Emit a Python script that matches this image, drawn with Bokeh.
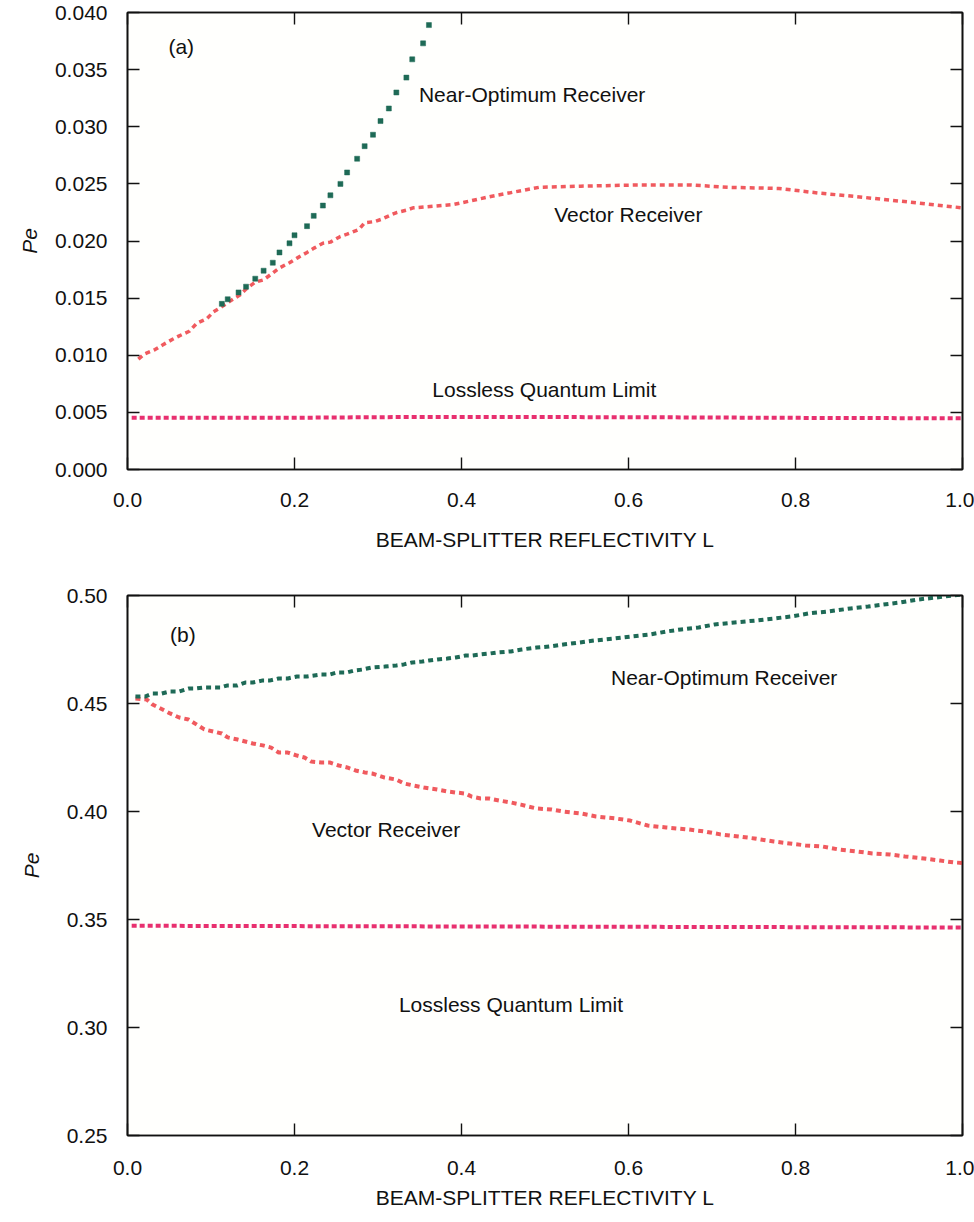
from bokeh.plotting import figure
from bokeh.models import (Range1d, LinearAxis, FixedTicker, NumeralTickFormatter, Label,
                          CustomJSTickFormatter)
from bokeh.layouts import column
from bokeh.embed import file_html
from bokeh.resources import INLINE

# ---------------- data ----------------
x_ticks = [0.0, 0.2, 0.4, 0.6, 0.8, 1.0]
y_ticks_a = [0.000, 0.005, 0.010, 0.015, 0.020, 0.025, 0.030, 0.035, 0.040]
y_ticks_b = [0.25, 0.30, 0.35, 0.40, 0.45, 0.50]

# Panel (a)
near_opt_a_L = [0.113, 0.120, 0.133, 0.142, 0.153, 0.163, 0.174, 0.182, 0.194, 0.200,
                0.215, 0.223, 0.234, 0.243, 0.255, 0.263, 0.275, 0.284, 0.294, 0.303,
                0.313, 0.322, 0.334, 0.341, 0.354, 0.361]
near_opt_a_Pe = [0.0145, 0.0149, 0.0155, 0.0160, 0.0167, 0.0174, 0.0181, 0.0190, 0.0198, 0.0205,
                 0.0213, 0.0222, 0.0231, 0.0240, 0.0250, 0.0260, 0.0272, 0.0283, 0.0293, 0.0305,
                 0.0316, 0.0330, 0.0343, 0.0359, 0.0373, 0.0389]

vector_a_L = [0.013, 0.020, 0.033, 0.042, 0.054, 0.062, 0.074, 0.083, 0.095, 0.103,
              0.114, 0.122, 0.135, 0.142, 0.153, 0.163, 0.174, 0.181, 0.194, 0.203,
              0.215, 0.224, 0.234, 0.243, 0.255, 0.263, 0.277, 0.284, 0.296, 0.304,
              0.316, 0.323, 0.334, 0.342, 0.391, 0.435, 0.493, 0.543, 0.609, 0.675,
              0.719, 0.780, 0.827, 0.871, 0.937, 1.000]
vector_a_Pe = [0.00966, 0.0101, 0.0105, 0.0109, 0.0114, 0.0117, 0.0121, 0.0128, 0.0132, 0.0138,
               0.0143, 0.0147, 0.0153, 0.0158, 0.0164, 0.0166, 0.0172, 0.0176, 0.0181, 0.0185,
               0.0190, 0.0194, 0.0198, 0.0199, 0.0204, 0.0206, 0.0210, 0.0216, 0.0217, 0.0219,
               0.0223, 0.0225, 0.0227, 0.0229, 0.0232, 0.0239, 0.0247, 0.0248, 0.0249, 0.0249,
               0.0247, 0.0246, 0.0242, 0.0239, 0.0234, 0.0229]

lossless_a_L = [0.005, 0.2, 0.35, 0.6, 0.8, 1.0]
lossless_a_Pe = [0.00452, 0.00453, 0.00460, 0.00458, 0.00452, 0.00448]

# Panel (b)
near_opt_b_L = [0.0095, 0.021, 0.030, 0.041, 0.051, 0.062, 0.073, 0.081, 0.091, 0.101,
                0.111, 0.119, 0.131, 0.141, 0.150, 0.161, 0.170, 0.181, 0.192, 0.203,
                0.215, 0.231, 0.242, 0.251, 0.263, 0.272, 0.281, 0.293, 0.308, 0.322,
                0.331, 0.341, 0.353, 0.361, 0.371, 0.383, 0.393, 0.405, 0.412, 0.423,
                0.433, 0.442, 0.459, 0.472, 0.490, 0.505, 0.522, 0.541, 0.560, 0.583,
                0.603, 0.625, 0.645, 0.663, 0.684, 0.703, 0.727, 0.752, 0.775, 0.795,
                0.816, 0.839, 0.866, 0.887, 0.905, 0.926, 0.946, 0.969, 0.988, 1.0]
near_opt_b_Pe = [0.4532, 0.4532, 0.4546, 0.4546, 0.4556, 0.4556, 0.4569, 0.4569, 0.4574, 0.4574,
                 0.4574, 0.4583, 0.4583, 0.4597, 0.4597, 0.4606, 0.4606, 0.4616, 0.4616, 0.4625,
                 0.4625, 0.4634, 0.4634, 0.4644, 0.4644, 0.4653, 0.4657, 0.4667, 0.4671, 0.4676,
                 0.4681, 0.4690, 0.4694, 0.4699, 0.4704, 0.4708, 0.4713, 0.4722, 0.4722, 0.4727,
                 0.4731, 0.4736, 0.4741, 0.4750, 0.4759, 0.4764, 0.4773, 0.4782, 0.4792, 0.4801,
                 0.4810, 0.4819, 0.4833, 0.4843, 0.4852, 0.4866, 0.4875, 0.4884, 0.4894, 0.4903,
                 0.4917, 0.4926, 0.4940, 0.4949, 0.4958, 0.4968, 0.4981, 0.4991, 0.5000, 0.5005]

vector_b_L = [0.0095, 0.023, 0.030, 0.042, 0.051, 0.062, 0.073, 0.081, 0.092, 0.103,
              0.113, 0.120, 0.132, 0.141, 0.150, 0.162, 0.172, 0.181, 0.192, 0.203,
              0.212, 0.220, 0.232, 0.242, 0.253, 0.263, 0.273, 0.284, 0.293, 0.308,
              0.322, 0.331, 0.343, 0.355, 0.371, 0.383, 0.393, 0.405, 0.412, 0.423,
              0.433, 0.445, 0.459, 0.471, 0.480, 0.490, 0.508, 0.522, 0.543, 0.561,
              0.584, 0.602, 0.623, 0.645, 0.671, 0.692, 0.710, 0.733, 0.751, 0.774,
              0.793, 0.812, 0.832, 0.852, 0.874, 0.892, 0.913, 0.931, 0.954, 0.973,
              0.990, 1.0]
vector_b_Pe = [0.4523, 0.4519, 0.4495, 0.4472, 0.4454, 0.4435, 0.4426, 0.4407, 0.4380, 0.4370,
               0.4361, 0.4343, 0.4333, 0.4324, 0.4315, 0.4306, 0.4296, 0.4273, 0.4273, 0.4259,
               0.4250, 0.4231, 0.4227, 0.4227, 0.4213, 0.4204, 0.4190, 0.4181, 0.4176, 0.4157,
               0.4148, 0.4130, 0.4120, 0.4111, 0.4102, 0.4093, 0.4088, 0.4083, 0.4069, 0.4060,
               0.4060, 0.4051, 0.4042, 0.4032, 0.4023, 0.4014, 0.4009, 0.4000, 0.3991, 0.3977,
               0.3968, 0.3958, 0.3935, 0.3926, 0.3917, 0.3907, 0.3894, 0.3884, 0.3875, 0.3861,
               0.3852, 0.3843, 0.3838, 0.3824, 0.3815, 0.3806, 0.3801, 0.3792, 0.3782, 0.3773,
               0.3764, 0.3762]

lossless_b_L = [0.005, 0.25, 0.5, 0.75, 1.0]
lossless_b_Pe = [0.3471, 0.3469, 0.3467, 0.3465, 0.3463]

# ---------------- styling ----------------
FONT = "Liberation Sans"
FS = "21px"
GREEN = "#1e6a56"
RED = "#f05a5e"
PINK = "#e8306f"
BLACK = "#111111"

EMPTY = CustomJSTickFormatter(code="return ''")


def style_axis(ax, ticks, fmt, show_labels=True):
    ax.ticker = FixedTicker(ticks=ticks)
    ax.axis_line_color = BLACK
    ax.axis_line_width = 1.6
    ax.major_tick_line_color = BLACK
    ax.major_tick_line_width = 1.4
    ax.major_tick_in = 12
    ax.major_tick_out = 0
    ax.minor_tick_line_color = None
    ax.major_label_text_font = FONT
    ax.major_label_text_color = BLACK
    ax.major_label_text_font_size = FS
    if show_labels:
        ax.formatter = NumeralTickFormatter(format=fmt)
    else:
        ax.formatter = EMPTY
        ax.major_label_standoff = 0


def make_panel(height, y_range, y_ticks, y_fmt, border_top, border_bottom,
               x_std, xlab_std, y_std, ylab_std):
    p = figure(width=974, height=height, x_range=Range1d(0.0, 1.0), y_range=y_range,
               output_backend="svg", toolbar_location=None,
               min_border_left=127, min_border_right=12,
               min_border_top=border_top, min_border_bottom=border_bottom)
    p.grid.visible = False
    p.background_fill_color = "#fffffd"
    p.border_fill_color = "white"
    p.outline_line_color = BLACK
    p.outline_line_width = 1.6

    style_axis(p.xaxis[0], x_ticks, "0.0")
    style_axis(p.yaxis[0], y_ticks, y_fmt)
    p.xaxis[0].major_label_standoff = x_std
    p.yaxis[0].major_label_standoff = y_std

    p.xaxis[0].axis_label = "BEAM-SPLITTER REFLECTIVITY L"
    p.xaxis[0].axis_label_text_font = FONT
    p.xaxis[0].axis_label_text_font_size = FS
    p.xaxis[0].axis_label_text_font_style = "normal"
    p.xaxis[0].axis_label_text_color = BLACK
    p.xaxis[0].axis_label_standoff = xlab_std

    p.yaxis[0].axis_label = "Pe"
    p.yaxis[0].axis_label_text_font = FONT
    p.yaxis[0].axis_label_text_font_size = FS
    p.yaxis[0].axis_label_text_font_style = "italic"
    p.yaxis[0].axis_label_text_color = BLACK
    p.yaxis[0].axis_label_standoff = ylab_std

    top = LinearAxis()
    style_axis(top, x_ticks, "0.0", show_labels=False)
    p.add_layout(top, "above")
    right = LinearAxis()
    style_axis(right, y_ticks, y_fmt, show_labels=False)
    p.add_layout(right, "right")
    return p


def add_label(p, x, y, text):
    p.add_layout(Label(x=x, y=y, text=text, text_font=FONT, text_font_size=FS,
                       text_color=BLACK, text_align="left", text_baseline="middle"))


# ---------------- panel (a) ----------------
pa = make_panel(585, Range1d(0.0, 0.040), y_ticks_a, "0.000", 12, 116,
                x_std=23, xlab_std=18, y_std=20, ylab_std=11)
pa.line(lossless_a_L, lossless_a_Pe, line_color=PINK, line_width=4,
        line_dash="5 3", line_cap="butt")
pa.line(vector_a_L, vector_a_Pe, line_color=RED, line_width=3.5,
        line_dash="5 4", line_cap="butt")
pa.scatter(near_opt_a_L, near_opt_a_Pe, marker="square", size=5,
           fill_color=GREEN, line_color=GREEN, line_width=0.5)
add_label(pa, 0.049, 0.0370, "(a)")
add_label(pa, 0.349, 0.0328, "Near-Optimum Receiver")
add_label(pa, 0.511, 0.0223, "Vector Receiver")
add_label(pa, 0.365, 0.0070, "Lossless Quantum Limit")

# ---------------- panel (b) ----------------
pb = make_panel(636, Range1d(0.25, 0.50), y_ticks_b, "0.00", 10, 86,
                x_std=25, xlab_std=8, y_std=20, ylab_std=21)
pb.line(lossless_b_L, lossless_b_Pe, line_color=PINK, line_width=4,
        line_dash="5 3", line_cap="butt")
pb.line(vector_b_L, vector_b_Pe, line_color=RED, line_width=4,
        line_dash="5 4", line_cap="butt")
pb.line(near_opt_b_L, near_opt_b_Pe, line_color=GREEN, line_width=4,
        line_dash="5 4", line_cap="butt")
add_label(pb, 0.051, 0.482, "(b)")
add_label(pb, 0.579, 0.462, "Near-Optimum Receiver")
add_label(pb, 0.221, 0.3915, "Vector Receiver")
add_label(pb, 0.325, 0.3107, "Lossless Quantum Limit")

layout = column(pa, pb, spacing=0)
open("out.html", "w").write(file_html(layout, INLINE))
